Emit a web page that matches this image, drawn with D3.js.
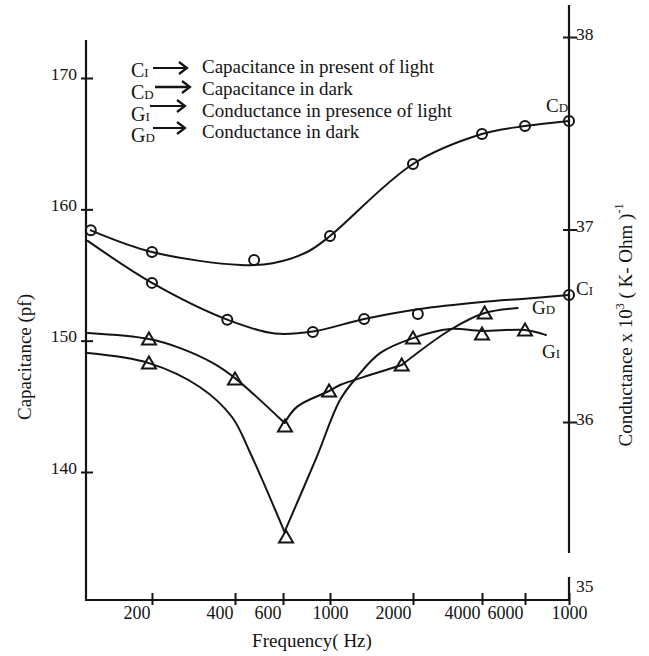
<!DOCTYPE html>
<html>
<head>
<meta charset="utf-8">
<script src="https://cdn.jsdelivr.net/npm/d3@7"></script>
<style>
  body { margin: 0; background: #fff; }
  svg { display: block; }
  text { font-family: "Liberation Serif", "Times New Roman", serif; fill: #141414; }
</style>
</head>
<body>
<svg id="chart" width="649" height="656"></svg>
<script>
// ---- axis ticks ----
const freqTicks = [200, 400, 600, 1000, 2000, 4000, 6000, 10000];
const freqTickLabels = ["200", "400", "600", "1000", "2000", "4000", "6000", "1000"];
const capTicks = [140, 150, 160, 170];
const condTicks = [36, 37, 38];
const condBottomLabel = "35";

// ---- capacitance (pF), [frequency Hz, value] ----
const cdMarkers = [[120, 158.4], [200, 156.75], [470, 156.14], [1000, 157.97], [2000, 163.45], [4000, 165.73], [6000, 166.34], [10000, 166.73]];
const cdCurve = [[[120, 158.4], [200, 156.75], [420, 155.76], [550, 155.9], [780, 156.75], [1000, 157.97], [2000, 163.45], [4000, 165.73], [6000, 166.34], [10000, 166.73]]];

const ciMarkers = [[200, 154.4], [375, 151.6], [830, 150.66], [1330, 151.65], [2100, 152.03], [10000, 153.47]];
const ciCurve = [[[117, 157.6], [200, 154.4], [375, 151.6], [560, 150.55], [830, 150.7], [1330, 151.65], [2100, 152.4], [4000, 152.95], [6000, 153.2], [10000, 153.47]]];

// ---- conductance (x10^3 (K-Ohm)^-1), [frequency Hz, value] ----
const gdMarkers = [[195, 36.431], [400, 36.223], [613, 35.979], [990, 36.161], [1820, 36.296], [4100, 36.566]];
const gdCurve = [
  [[117, 36.462], [195, 36.431], [253, 36.384], [333, 36.306], [400, 36.228], [610, 35.995]],
  [[610, 35.995], [700, 36.08], [990, 36.161], [1087, 36.192], [1432, 36.249], [1820, 36.296]],
  [[1820, 36.296], [2900, 36.478], [4100, 36.566], [5600, 36.592]]
];

const giMarkers = [[195, 36.306], [620, 35.403], [2000, 36.436], [4000, 36.457], [6000, 36.478]];
const giCurve = [
  [[117, 36.358], [195, 36.306], [298, 36.182], [390, 36.026], [455, 35.839], [610, 35.429]],
  [[610, 35.429], [865, 35.818], [1087, 36.114], [1253, 36.234], [1518, 36.358], [2000, 36.436], [2900, 36.483], [4000, 36.473], [6000, 36.478], [7650, 36.452]]
];

// ---- legend and curve names ----
const legendSymbols = [["C", "I"], ["C", "D"], ["G", "I"], ["G", "D"]];
const legendTexts = [
  "Capacitance in present of light",
  "Capacitance in dark",
  "Conductance in presence of light",
  "Conductance in dark"
];

// ---- layout ----
const INK = "#141414";
const L = 86, R = 569, B = 600, TOP_L = 40, TOP_R = 5;
// the frequency axis is logarithmic but its tick spacing is drawn unevenly
const tickFrac = [0.1366, 0.3085, 0.4079, 0.5052, 0.677, 0.8199, 0.9089, 1];

const svg = d3.select("#chart");

const x = d3.scaleLog().domain(freqTicks).range(tickFrac.map(f => L + f * (R - L)));
const yC = d3.scaleLinear().domain([140, 170]).range([472, 78]);
const yG = d3.scaleLinear().domain([36, 38]).range([422, 37]);

// ---- axes ----
const axes = svg.append("g").attr("stroke", INK).attr("stroke-width", 2.2).attr("fill", "none");
axes.append("line").attr("x1", L).attr("x2", L).attr("y1", TOP_L).attr("y2", B + 1);
axes.append("line").attr("x1", L - 1).attr("x2", R + 1).attr("y1", B).attr("y2", B);
axes.append("line").attr("x1", R).attr("x2", R).attr("y1", TOP_R).attr("y2", 553);
axes.append("line").attr("x1", R).attr("x2", R).attr("y1", 577).attr("y2", B + 1);

// bottom axis
const gx = svg.append("g").attr("transform", `translate(0,${B})`)
  .call(d3.axisBottom(x).tickValues(freqTicks)
    .tickFormat((d, i) => freqTickLabels[i]).tickSizeOuter(0).tickSizeInner(5));
gx.select(".domain").remove();
gx.attr("font-family", null);
gx.selectAll(".tick line").attr("y1", -7).attr("y2", 5).attr("stroke", INK).attr("stroke-width", 2);
gx.selectAll(".tick text")
  .attr("y", 19).attr("dy", null)
  .attr("font-size", 18).attr("fill", INK)
  .attr("text-anchor", d => (Math.log10(d) % 1 === 0 ? "middle" : "end"))
  .attr("x", d => (Math.log10(d) % 1 === 0 ? 0 : -2));

// left axis
const gl = svg.append("g").attr("transform", `translate(${L},0)`)
  .call(d3.axisLeft(yC).tickValues(capTicks).tickFormat(d3.format("d"))
    .tickSizeOuter(0).tickSizeInner(4));
gl.select(".domain").remove();
gl.attr("font-family", null);
gl.selectAll(".tick line").attr("x1", -5).attr("x2", 7).attr("stroke", INK).attr("stroke-width", 2);
gl.selectAll(".tick text").attr("x", -9).attr("dy", null).attr("y", 1)
  .attr("font-size", 17.5).attr("fill", INK).attr("text-anchor", "end");

// right axis
const gr = svg.append("g").attr("transform", `translate(${R},0)`)
  .call(d3.axisRight(yG).tickValues(condTicks).tickFormat(d3.format("d"))
    .tickSizeOuter(0).tickSizeInner(4));
gr.select(".domain").remove();
gr.attr("font-family", null);
gr.selectAll(".tick line").attr("x1", -6).attr("x2", 8).attr("stroke", INK).attr("stroke-width", 2);
gr.selectAll(".tick text").attr("x", 7).attr("dy", null).attr("y", 2)
  .attr("font-size", 17.5).attr("fill", INK).attr("text-anchor", "start");
svg.append("text").attr("x", R + 7).attr("y", Math.min(yG(35), B - 8))
  .attr("font-size", 17.5).text(condBottomLabel);

// axis titles
svg.append("text").attr("x", 312).attr("y", 647).attr("text-anchor", "middle")
  .attr("font-size", 19).text("Frequency( Hz)");
svg.append("text").attr("transform", "translate(31,357) rotate(-90)").attr("text-anchor", "middle")
  .attr("font-size", 19).text("Capacitance (pf)");
const rt = svg.append("text").attr("transform", "translate(632,325) rotate(-90)")
  .attr("text-anchor", "middle").attr("font-size", 19);
rt.append("tspan").text("Conductance x 10");
rt.append("tspan").attr("dy", -8).attr("font-size", 12).text("3");
rt.append("tspan").attr("dy", 8).text(" ( K- Ohm )");
rt.append("tspan").attr("dy", -9).attr("font-size", 12).text("-1");

// ---- curves ----
const curveLayer = svg.append("g").attr("fill", "none").attr("stroke", INK)
  .attr("stroke-width", 2).attr("stroke-linejoin", "round").attr("stroke-linecap", "round");
function drawCurve(segments, yScale) {
  const gen = d3.line().x(d => x(d[0])).y(d => yScale(d[1])).curve(d3.curveCatmullRom.alpha(0.5));
  segments.forEach(seg => curveLayer.append("path").attr("d", gen(seg)));
}
drawCurve(cdCurve, yC);
drawCurve(ciCurve, yC);
drawCurve(gdCurve, yG);
drawCurve(giCurve, yG);

// ---- markers ----
const markLayer = svg.append("g").attr("fill", "none").attr("stroke", INK).attr("stroke-width", 2);
function drawCircles(pts, yScale) {
  markLayer.selectAll(null).data(pts).enter().append("circle")
    .attr("cx", d => x(d[0])).attr("cy", d => yScale(d[1])).attr("r", 5);
}
function drawTriangles(pts, yScale) {
  markLayer.selectAll(null).data(pts).enter().append("path")
    .attr("transform", d => `translate(${x(d[0])},${yScale(d[1])})`)
    .attr("d", "M0,-6.5L7,5.5L-7,5.5Z").attr("stroke-linejoin", "miter");
}
drawCircles(cdMarkers, yC);
drawCircles(ciMarkers, yC);
drawTriangles(gdMarkers, yG);
drawTriangles(giMarkers, yG);

// ---- curve names ----
function subLabel(g, px, py, pair, big, small) {
  const t = g.append("text").attr("x", px).attr("y", py).attr("font-size", big);
  t.append("tspan").text(pair[0]);
  t.append("tspan").attr("font-size", small).text(pair[1]);
  return t;
}
const names = svg.append("g");
subLabel(names, 546, 112, ["C", "D"], 19, 13);
subLabel(names, 576, 295, ["C", "I"], 19, 13);
subLabel(names, 532, 314, ["G", "D"], 19, 13);
subLabel(names, 542, 358, ["G", "I"], 19, 13);

// ---- legend ----
const legend = svg.append("g");
const rowBase = [73, 95, 117, 138];
const arrowY = [68, 87, 106, 128];
const arrowX = [[153, 187], [155, 190], [150, 185], [153, 185]];
legendSymbols.forEach((s, i) => {
  subLabel(legend, 131, rowBase[i] + 4, s, 20, 13);
  const [a, b] = arrowX[i], ay = arrowY[i];
  legend.append("line").attr("x1", a).attr("x2", b - 1).attr("y1", ay).attr("y2", ay)
    .attr("stroke", INK).attr("stroke-width", i === 1 ? 2.6 : 2);
  legend.append("path").attr("d", `M${b - 8},${ay - 6}L${b},${ay}L${b - 8},${ay + 6}`)
    .attr("fill", "none").attr("stroke", INK).attr("stroke-width", 2.2);
  legend.append("text").attr("x", 202).attr("y", rowBase[i]).attr("font-size", 19).text(legendTexts[i]);
});
</script>
</body>
</html>
